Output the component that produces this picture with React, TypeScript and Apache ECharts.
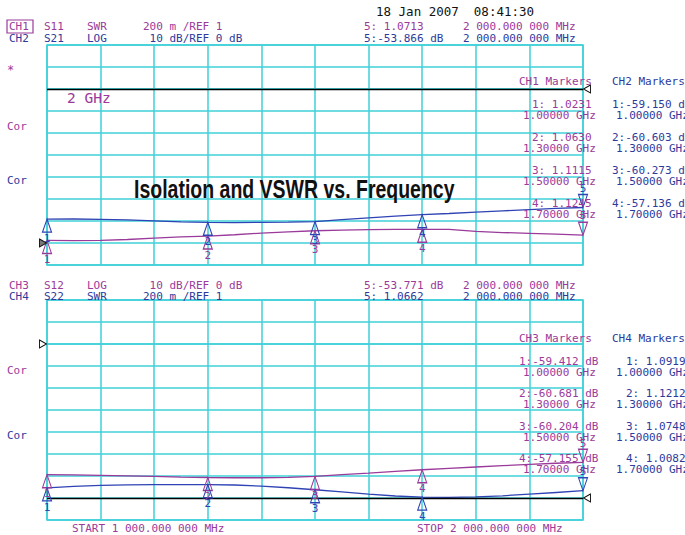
import React, { useEffect, useRef } from "react";
import * as echarts from "echarts";

// ---------- data ----------
const freqGHz = [1.0, 1.05, 1.1, 1.15, 1.2, 1.25, 1.3, 1.35, 1.4, 1.45, 1.5, 1.55, 1.6, 1.65, 1.7, 1.75, 1.8, 1.85, 1.9, 1.95, 2.0];
// CH1 S11 SWR (top, purple)
const ch1Swr = [1.0231, 1.022, 1.024, 1.032, 1.045, 1.055, 1.063, 1.075, 1.09, 1.102, 1.1115, 1.117, 1.121, 1.124, 1.1245, 1.123, 1.105, 1.095, 1.088, 1.08, 1.0713];
// CH2 S21 LOG dB (top, blue)
const ch2Db = [-59.15, -59.1, -59.3, -59.5, -59.9, -60.4, -60.603, -60.7, -60.6, -60.5, -60.273, -59.4, -58.6, -57.8, -57.136, -56.6, -56.0, -55.4, -54.8, -54.3, -53.866];
// CH3 S12 LOG dB (bottom, purple)
const ch3Db = [-59.412, -59.5, -59.7, -59.9, -60.2, -60.5, -60.681, -60.8, -60.8, -60.6, -60.204, -59.4, -58.7, -57.9, -57.155, -56.5, -55.9, -55.3, -54.7, -54.2, -53.771];
// CH4 S22 SWR (bottom, blue)
const ch4Swr = [1.0919, 1.105, 1.115, 1.12, 1.121, 1.122, 1.1212, 1.118, 1.108, 1.093, 1.0748, 1.055, 1.035, 1.018, 1.0082, 1.006, 1.01, 1.02, 1.035, 1.05, 1.0662];

const markerFreqs = [1.0, 1.3, 1.5, 1.7];
const ch1Markers = [1.0231, 1.063, 1.1115, 1.1245];
const ch2Markers = [-59.15, -60.603, -60.273, -57.136];
const ch3Markers = [-59.412, -60.681, -60.204, -57.155];
const ch4Markers = [1.0919, 1.1212, 1.0748, 1.0082];
const marker5Freq = 2.0;
const ch1Marker5 = 1.0713;
const ch2Marker5 = -53.866;
const ch3Marker5 = -53.771;
const ch4Marker5 = 1.0662;

const title = "Isolation and VSWR vs. Frequency";
const dateText = "18 Jan 2007  08:41:30";
const startText = "START 1 000.000 000 MHz";
const stopText = "STOP 2 000.000 000 MHz";

// ---------- styles ----------
const PURPLE = "#9a3a9a";
const BLUE = "#2f43b4";
const BLUE_TXT = "#2d3a9c";
const GRIDC = "#3fd0d8";
const MONO = "DejaVu Sans Mono, Liberation Mono, monospace";

const GRID_L = 47;
const GRID_W = 536;
const TOP1 = 45;
const TOP2 = 300;
const GRID_H = 220;

const up = (f: number, v: number, i: number, c: string) => ({
  coord: [f, v],
  symbol: "triangle",
  symbolSize: [9, 13],
  symbolOffset: [0, 6.5],
  itemStyle: { color: "rgba(0,0,0,0)", borderColor: c, borderWidth: 1.2 },
  label: { show: true, position: "bottom", distance: 0, formatter: String(i + 1), color: c, fontSize: 11, fontFamily: MONO },
});
const down = (f: number, v: number, c: string) => ({
  coord: [f, v],
  symbol: "path://M0,0 L10,0 L5,14 Z",
  symbolSize: [9, 13],
  symbolOffset: [0, -6.5],
  itemStyle: { color: "rgba(0,0,0,0)", borderColor: c, borderWidth: 1.2 },
  label: { show: true, position: "top", distance: 0, formatter: "5", color: c, fontSize: 11, fontFamily: MONO },
});
const leftRef = (f: number, v: number, fill: string) => ({
  coord: [f, v],
  symbol: "path://M0,0 L10,5 L0,10 Z",
  symbolSize: [7, 8],
  symbolOffset: [-4, 0],
  itemStyle: { color: fill, borderColor: "#111", borderWidth: 1 },
  label: { show: false },
});
const rightRef = (f: number, v: number) => ({
  coord: [f, v],
  symbol: "path://M10,0 L0,5 L10,10 Z",
  symbolSize: [7, 8],
  symbolOffset: [4, 0],
  itemStyle: { color: "rgba(255,255,255,1)", borderColor: "#111", borderWidth: 1 },
  label: { show: false },
});

const pairs = (ys: number[]) => freqGHz.map((f, i) => [f, ys[i]]);

function txt(text: string, x: number, y: number, fill: string, size = 11, extra: any = {}) {
  return {
    type: "text",
    x,
    y,
    scaleX: extra.scaleX || 1,
    silent: true,
    z: 50,
    style: {
      text,
      fill,
      font: `${extra.weight || "normal"} ${size}px ${extra.family || MONO}`,
      align: extra.align || "left",
      verticalAlign: "middle",
    },
  };
}

export default function App() {
  const ref = useRef<HTMLDivElement>(null);
  useEffect(() => {
    document.body.style.margin = "0";
    if (!ref.current) return;
    const chart = echarts.init(ref.current, undefined, { renderer: "svg" });

    const xAxisBase = (gi: number) => ({
      type: "value",
      gridIndex: gi,
      min: 1.0,
      max: 2.0,
      interval: 0.1,
      axisLine: { show: true, lineStyle: { color: GRIDC, width: 1.5 } },
      axisTick: { show: false },
      axisLabel: { show: false },
      splitLine: { show: true, lineStyle: { color: GRIDC, width: 1.5 } },
    });
    const dbAxis = (gi: number) => ({
      type: "value",
      gridIndex: gi,
      min: -80,
      max: 20,
      interval: 10,
      axisLine: { show: false },
      axisTick: { show: false },
      axisLabel: { show: false },
      splitLine: { show: true, lineStyle: { color: GRIDC, width: 1.5 } },
    });
    const swrAxis = (gi: number) => ({
      type: "value",
      gridIndex: gi,
      min: 0.8,
      max: 2.8,
      show: false,
      splitLine: { show: false },
    });

    const mk = (vals: number[], c: string) => vals.map((v, i) => up(markerFreqs[i], v, i, c));

    const texts: any[] = [];
    texts.push(txt(dateText, 376, 11, "#111", 12.5));
    // top header
    texts.push({
      type: "rect",
      shape: { x: 7, y: 20, width: 26, height: 13 },
      style: { fill: "none", stroke: PURPLE, lineWidth: 1.2 },
      z: 50,
      silent: true,
    });
    texts.push(txt("CH1", 9, 26.5, PURPLE));
    texts.push(txt("S11", 44, 26.5, PURPLE));
    texts.push(txt("SWR", 87, 26.5, PURPLE));
    texts.push(txt("200 m /REF 1", 143, 26.5, PURPLE));
    texts.push(txt("5: " + ch1Marker5.toFixed(4), 364, 26.5, PURPLE));
    texts.push(txt("2 000.000 000 MHz", 463, 26.5, PURPLE));
    texts.push(txt("CH2", 9, 38.5, BLUE_TXT));
    texts.push(txt("S21", 44, 38.5, BLUE_TXT));
    texts.push(txt("LOG", 87, 38.5, BLUE_TXT));
    texts.push(txt(" 10 dB/REF 0 dB", 143, 38.5, BLUE_TXT));
    texts.push(txt("5:" + ch2Marker5.toFixed(3) + " dB", 364, 38.5, BLUE_TXT));
    texts.push(txt("2 000.000 000 MHz", 463, 38.5, BLUE_TXT));
    // bottom header
    texts.push(txt("CH3", 9, 285, PURPLE));
    texts.push(txt("S12", 44, 285, PURPLE));
    texts.push(txt("LOG", 87, 285, PURPLE));
    texts.push(txt(" 10 dB/REF 0 dB", 143, 285, PURPLE));
    texts.push(txt("5:" + ch3Marker5.toFixed(3) + " dB", 364, 285, PURPLE));
    texts.push(txt("2 000.000 000 MHz", 463, 285, PURPLE));
    texts.push(txt("CH4", 9, 296.5, BLUE_TXT));
    texts.push(txt("S22", 44, 296.5, BLUE_TXT));
    texts.push(txt("SWR", 87, 296.5, BLUE_TXT));
    texts.push(txt("200 m /REF 1", 143, 296.5, BLUE_TXT));
    texts.push(txt("5: " + ch4Marker5.toFixed(4), 364, 296.5, BLUE_TXT));
    texts.push(txt("2 000.000 000 MHz", 463, 296.5, BLUE_TXT));
    // left annotations
    texts.push(txt("*", 7, 70, PURPLE, 12));
    texts.push(txt("Cor", 7, 126, PURPLE));
    texts.push(txt("Cor", 7, 180, BLUE_TXT));
    texts.push(txt("Cor", 7, 370, PURPLE));
    texts.push(txt("Cor", 7, 435, BLUE_TXT));
    texts.push(txt("2 GHz", 67, 98, PURPLE, 14.5));
    // marker tables
    texts.push(txt("CH1 Markers", 519, 81.5, PURPLE));
    texts.push(txt("CH2 Markers", 612, 81.5, BLUE_TXT));
    texts.push(txt("CH3 Markers", 519, 338.5, PURPLE));
    texts.push(txt("CH4 Markers", 612, 338.5, BLUE_TXT));
    const topRows = [104.5, 137.5, 170.5, 203.5];
    const botRows = [361, 393, 426, 458.5];
    markerFreqs.forEach((f, i) => {
      const ghz = f.toFixed(5) + " GHz";
      texts.push(txt(`${i + 1}: ${ch1Markers[i].toFixed(4)}`, 532, topRows[i], PURPLE));
      texts.push(txt(ghz, 523, topRows[i] + 11, PURPLE));
      texts.push(txt(`${i + 1}:${ch2Markers[i].toFixed(3)} dB`, 612, topRows[i], BLUE_TXT));
      texts.push(txt(ghz, 616, topRows[i] + 11, BLUE_TXT));
      texts.push(txt(`${i + 1}:${ch3Markers[i].toFixed(3)} dB`, 519, botRows[i], PURPLE));
      texts.push(txt(ghz, 523, botRows[i] + 11, PURPLE));
      texts.push(txt(`${i + 1}: ${ch4Markers[i].toFixed(4)}`, 626, botRows[i], BLUE_TXT));
      texts.push(txt(ghz, 616, botRows[i] + 11, BLUE_TXT));
    });
    texts.push(txt(startText, 72, 528, PURPLE));
    texts.push(txt(stopText, 417, 528, PURPLE));
    texts.push(
      txt(title, 134, 190, "#111", 25, {
        weight: "bold",
        family: "'Liberation Sans', Arial, sans-serif",
        scaleX: 0.78,
      })
    );

    const refLine = (val: number) => ({
      silent: true,
      symbol: ["none", "none"],
      label: { show: false },
      lineStyle: { color: "#000", width: 1.4, type: "solid" },
      data: [{ yAxis: val }],
    });

    chart.setOption({
      animation: false,
      backgroundColor: "#ffffff",
      grid: [
        { left: GRID_L, top: TOP1, width: GRID_W, height: GRID_H, show: true, borderColor: GRIDC, borderWidth: 1.5 },
        { left: GRID_L, top: TOP2, width: GRID_W, height: GRID_H, show: true, borderColor: GRIDC, borderWidth: 1.5 },
      ],
      xAxis: [xAxisBase(0), xAxisBase(1)],
      yAxis: [swrAxis(0), dbAxis(0), swrAxis(1), dbAxis(1)],
      graphic: texts,
      series: [
        {
          name: "CH1 S11 SWR",
          type: "line",
          xAxisIndex: 0,
          yAxisIndex: 0,
          data: pairs(ch1Swr),
          showSymbol: false,
          lineStyle: { color: PURPLE, width: 1.3 },
          z: 3,
          markPoint: {
            silent: true,
            data: [...mk(ch1Markers, PURPLE), down(marker5Freq, ch1Marker5, PURPLE), leftRef(1.0, 1.0, "#777")],
          },
        },
        {
          name: "CH2 S21 LOG",
          type: "line",
          xAxisIndex: 0,
          yAxisIndex: 1,
          data: pairs(ch2Db),
          showSymbol: false,
          lineStyle: { color: BLUE, width: 1.3 },
          z: 4,
          markLine: refLine(0),
          markPoint: {
            silent: true,
            data: [...mk(ch2Markers, BLUE), down(marker5Freq, ch2Marker5, BLUE), rightRef(2.0, 0)],
          },
        },
        {
          name: "CH3 S12 LOG",
          type: "line",
          xAxisIndex: 1,
          yAxisIndex: 3,
          data: pairs(ch3Db),
          showSymbol: false,
          lineStyle: { color: PURPLE, width: 1.3 },
          z: 3,
          markPoint: {
            silent: true,
            data: [...mk(ch3Markers, PURPLE), down(marker5Freq, ch3Marker5, PURPLE), leftRef(1.0, 0, "#ffffff")],
          },
        },
        {
          name: "CH4 S22 SWR",
          type: "line",
          xAxisIndex: 1,
          yAxisIndex: 2,
          data: pairs(ch4Swr),
          showSymbol: false,
          lineStyle: { color: BLUE, width: 1.3 },
          z: 4,
          markLine: refLine(1.0),
          markPoint: {
            silent: true,
            data: [...mk(ch4Markers, BLUE), down(marker5Freq, ch4Marker5, BLUE), rightRef(2.0, 1.0)],
          },
        },
      ],
    });
    return () => chart.dispose();
  }, []);
  return <div ref={ref} style={{ width: 685, height: 535 }} />;
}
